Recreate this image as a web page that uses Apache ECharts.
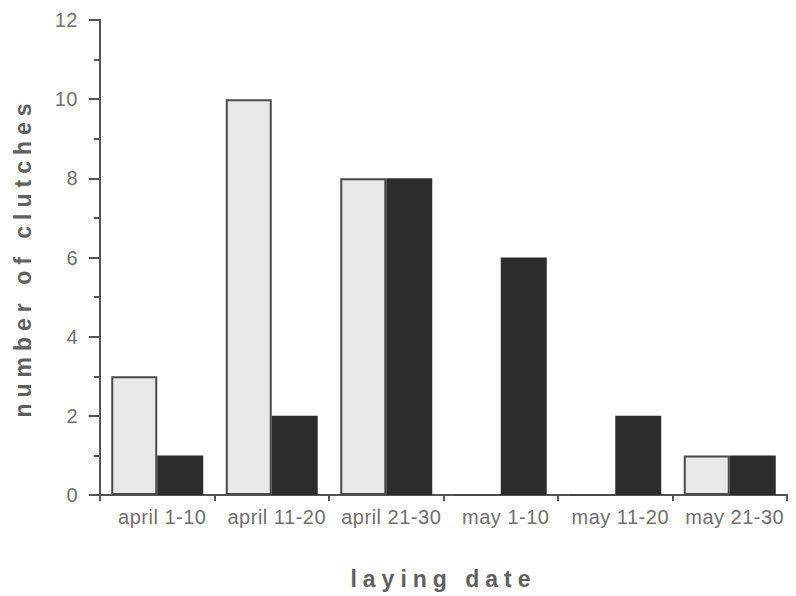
<!DOCTYPE html>
<html>
<head>
<meta charset="utf-8">
<script src="https://cdn.jsdelivr.net/npm/echarts@6/dist/echarts.min.js"></script>
<style>
  html, body { margin: 0; padding: 0; background: #fff; }
  #chart { width: 796px; height: 596px; }
  /* the scanned figure uses widely spaced lettering */
  #chart svg text[style*="bold"] { letter-spacing: 6px; }
  #chart svg text:not([style*="bold"]) { letter-spacing: 0.5px; }
</style>
</head>
<body>
<div id="chart"></div>
<script>
// laying date periods
let categories = ["april 1-10", "april 11-20", "april 21-30", "may 1-10", "may 11-20", "may 21-30"];
// light (stippled) bars and dark bars
let lightValues = [3, 10, 8, 0, 0, 1];
let darkValues = [1, 2, 8, 6, 2, 1];
let yTicks = [0, 2, 4, 6, 8, 10, 12];

let myChart = echarts.init(document.getElementById("chart"), null, { renderer: "svg" });
let axisColor = "#555";
let textColor = "#707070";

let option = {
  backgroundColor: "#fff",
  animation: false,
  grid: {
    left: 100,
    right: 9,
    top: 20,
    bottom: 101,
  },
  xAxis: {
    type: "category",
    data: categories,
    name: "laying date",
    nameLocation: "middle",
    nameGap: 72,
    nameTextStyle: {
      fontFamily: "Liberation Sans",
      fontSize: 23,
      fontWeight: "bold",
      color: "#606060",
    },
    axisLine: { lineStyle: { color: axisColor, width: 2 } },
    axisTick: { show: true, length: 6, lineStyle: { color: axisColor, width: 2 } },
    axisLabel: {
      interval: 0,
      hideOverlap: false,
      fontFamily: "Liberation Sans",
      fontSize: 20,
      color: textColor,
      margin: 12,
      padding: [0, 0, 0, 10],
    },
  },
  yAxis: {
    type: "value",
    min: yTicks[0],
    max: yTicks[yTicks.length - 1],
    interval: 2,
    name: "number of clutches",
    nameLocation: "middle",
    nameGap: 66,
    nameTextStyle: {
      fontFamily: "Liberation Sans",
      fontSize: 23,
      fontWeight: "bold",
      color: "#606060",
    },
    axisLine: { show: true, lineStyle: { color: axisColor, width: 2 } },
    axisTick: { show: true, inside: false, length: 11, lineStyle: { color: axisColor, width: 2 } },
    minorTick: { show: true, splitNumber: 2, length: 6, lineStyle: { color: axisColor, width: 2 } },
    splitLine: { show: false },
    axisLabel: {
      fontFamily: "Liberation Sans",
      fontSize: 20,
      color: textColor,
      margin: 22,
    },
  },
  series: [
    {
      name: "light",
      type: "bar",
      data: lightValues,
      barWidth: 46,
      barGap: "0%",
      itemStyle: {
        color: "#e8e8e8",
        borderColor: "#4a4a4a",
        borderWidth: 2,
      },
    },
    {
      name: "dark",
      type: "bar",
      data: darkValues,
      barWidth: 46,
      barGap: "0%",
      itemStyle: {
        color: "#2c2c2c",
      },
    },
  ],
};
myChart.setOption(option);
</script>
</body>
</html>
